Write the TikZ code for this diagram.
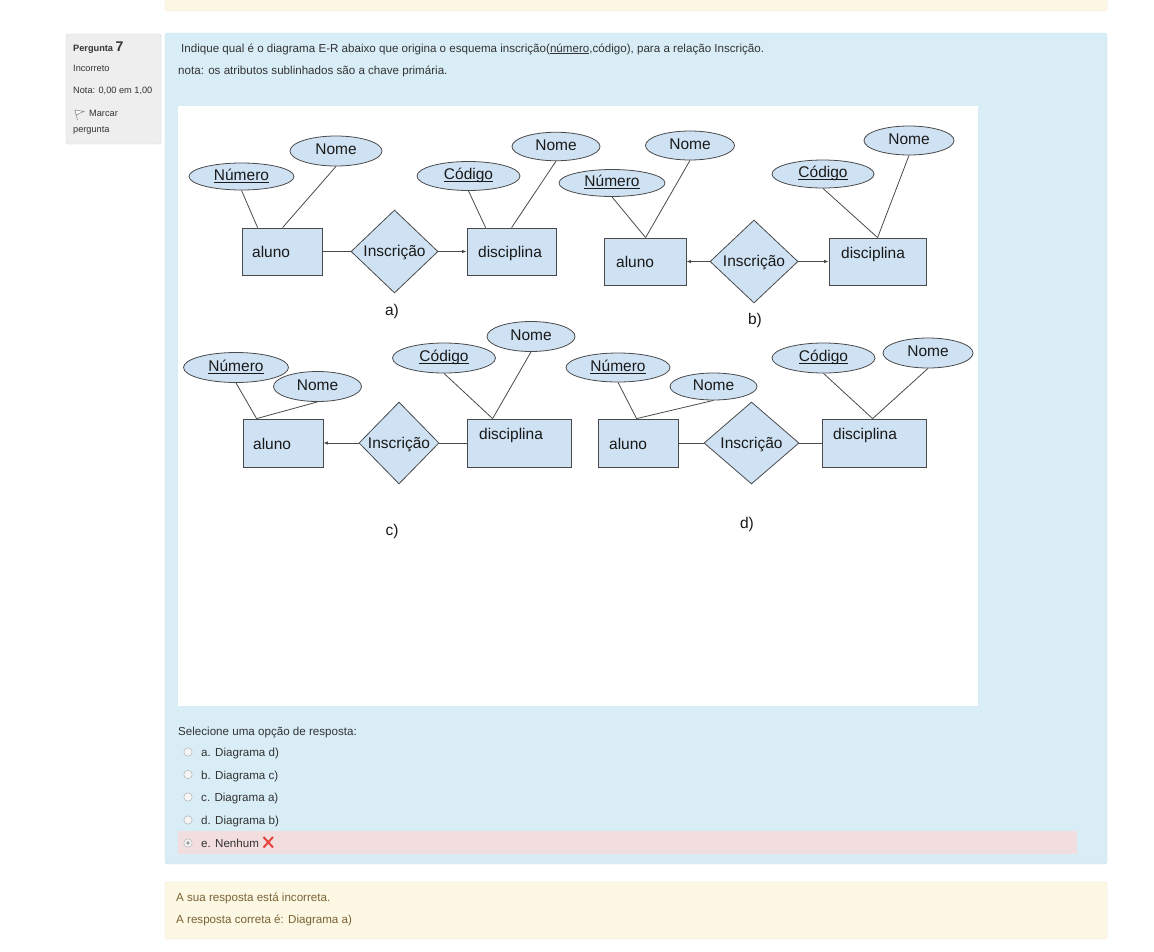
\documentclass[tikz,border=0pt]{standalone}
\usepackage{fontspec}
\setmainfont{Liberation Sans}
\usetikzlibrary{shapes.geometric,arrows.meta,calc}

\definecolor{qblue}{HTML}{D9EDF7}
\definecolor{qblueline}{HTML}{BCE3EF}
\definecolor{qyellow}{HTML}{FCF8E3}
\definecolor{qyellowline}{HTML}{F5E6C4}
\definecolor{qinfo}{HTML}{EEEEEE}
\definecolor{qinfoline}{HTML}{D8D8D8}
\definecolor{qred}{HTML}{F2DEDE}
\definecolor{qtext}{HTML}{333333}
\definecolor{qbrown}{HTML}{7A6236}
\definecolor{erfill}{HTML}{CFE2F3}
\definecolor{erline}{HTML}{4A4A4A}
\definecolor{crossred}{HTML}{E8423F}

% underline drawn just below the baseline
\newsavebox\ulbox
\newcommand{\ulword}[2][2.2]{\sbox\ulbox{#2}\rlap{\rule[-#1pt]{\wd\ulbox}{0.8pt}}\usebox\ulbox}

\begin{document}
\begin{tikzpicture}[x=1pt,y=-1pt,
  erfont/.style={font=\fontsize{15.5}{18}\selectfont, text=black!90},
  attr/.style={ellipse, draw=erline, fill=erfill, inner sep=0pt, line width=0.8pt,
    erfont, text height=11pt, text depth=3.3pt},
  ent/.style={rectangle, draw=erline, fill=erfill, inner sep=0pt, line width=0.8pt},
  rel/.style={diamond, draw=erline, fill=erfill, inner sep=0pt, aspect=1, line width=0.8pt,
    erfont, text height=11pt, text depth=1pt},
  link/.style={draw=erline, line width=0.8pt},
  tip/.style={-{Latex[length=4.5pt,width=3.5pt]}},
  lbl/.style={erfont, anchor=base west},
  page/.style={font=\fontsize{11.6}{14}\selectfont, text=qtext, inner sep=0pt, anchor=base west},
  small/.style={font=\fontsize{9.2}{11}\selectfont, text=qtext, inner sep=0pt, anchor=base west},
  fb/.style={font=\fontsize{11.6}{14}\selectfont, text=qbrown, inner sep=0pt, anchor=base west},
  radio/.style={circle, draw=black!30, fill=black!4, minimum size=8.4pt, inner sep=0pt, line width=0.5pt}
]
\useasboundingbox (0,0) rectangle (1154,951);
\fill[white] (0,0) rectangle (1154,951);

% ---- page frame ----
\draw[qyellowline, fill=qyellow, rounded corners=3] (165,-6) rectangle (1107,11);
\draw[qinfoline, fill=qinfo, rounded corners=2] (66,34) rectangle (161,144);
\draw[qblueline, fill=qblue, rounded corners=3] (165,33) rectangle (1107,864);
\draw[qyellowline, fill=qyellow, rounded corners=3] (165,882) rectangle (1107,939);

% ---- question info ----
\node[small] (qnum) at (73,51) {\textbf{Pergunta} {\fontsize{14}{16}\selectfont\textbf{7}}};
\node[small] (qstate) at (73,71) {Incorreto};
\node[small] (qgrade) at (73,93) {Nota: 0,00 em 1,00};
\draw[black!45, line width=0.6pt] (75,110) -- (77.5,120);
\draw[black!45, line width=0.6pt, fill=white] (75,110) -- (84,111.5) -- (79,113.5) -- (76.3,115.3) -- cycle;
\node[small] (qflag) at (89,116) {Marcar};
\node[small] (qflag2) at (73,132) {pergunta};

% ---- question text ----
\node[page] (qtxt) at (181,52) {Indique qual é o diagrama E-R abaixo que origina o esquema inscrição(\ulword[1.6]{número},código), para a relação Inscrição.};
\node[page] (qnote) at (178,74) {nota: os atributos sublinhados são a chave primária.};

% ---- image area ----
\fill[white] (178,106) rectangle (978,706);

% ===== diagram a) =====
\node[ent, minimum width=80, minimum height=47] (alunoA) at (282,251.5) {};
\node[ent, minimum width=89, minimum height=47] (discA) at (511.5,251.5) {};
\node[rel, minimum width=87, minimum height=83] (relA) at (394.5,251.5) {Inscrição};
\node[attr, minimum width=105, minimum height=27] (numA) at (241.5,176.5) {\ulword{Número}};
\node[attr, minimum width=92, minimum height=30] (nomeA) at (336,151) {Nome};
\node[attr, minimum width=103, minimum height=29] (codA) at (468.5,176) {\ulword{Código}};
\node[attr, minimum width=88, minimum height=28.5] (nomeA2) at (556,146.5) {Nome};
\node[lbl] (tAlunoA) at ($(alunoA.north west)+(7,30)$) {aluno};
\node[lbl] (tDiscA) at ($(discA.north west)+(8,30)$) {disciplina};
\draw[link] (numA.south) -- ($(alunoA.north west)+(16,0)$);
\draw[link] (nomeA.south) -- ($(alunoA.north west)+(41,0)$);
\draw[link] (codA.south) -- ($(discA.north west)+(19,0)$);
\draw[link] (nomeA2.south) -- ($(discA.north west)+(45,0)$);
\draw[link] (alunoA.east) -- (relA.west);
\draw[link, tip] (relA.east) -- (discA.west);
\node[erfont] (capA) at (392,311) {a)};

% ===== diagram b) =====
\node[ent, minimum width=82, minimum height=47] (alunoB) at (645,261.5) {};
\node[ent, minimum width=97, minimum height=47] (discB) at (877.5,261.5) {};
\node[rel, minimum width=88, minimum height=83] (relB) at (754,261.5) {Inscrição};
\node[attr, minimum width=106, minimum height=27] (numB) at (612,183) {\ulword{Número}};
\node[attr, minimum width=89, minimum height=29] (nomeB) at (690,145.5) {Nome};
\node[attr, minimum width=102, minimum height=28] (codB) at (823,174) {\ulword{Código}};
\node[attr, minimum width=90, minimum height=29] (nomeB2) at (909,140.5) {Nome};
\node[lbl] (tAlunoB) at ($(alunoB.north west)+(9,30)$) {aluno};
\node[lbl] (tDiscB) at ($(discB.north west)+(9,21)$) {disciplina};
\draw[link] (numB.south) -- ($(alunoB.north west)+(42,0)$);
\draw[link] (nomeB.south) -- ($(alunoB.north west)+(42,0)$);
\draw[link] (codB.south) -- ($(discB.north west)+(49,0)$);
\draw[link] (nomeB2.south) -- ($(discB.north west)+(49,0)$);
\draw[link, tip] (relB.west) -- (alunoB.east);
\draw[link, tip] (relB.east) -- (discB.west);
\node[erfont] (capB) at (755,320) {b)};

% ===== diagram c) =====
\node[ent, minimum width=80, minimum height=48] (alunoC) at (283,443) {};
\node[ent, minimum width=104, minimum height=48] (discC) at (519,443) {};
\node[rel, minimum width=80, minimum height=82] (relC) at (399,443) {Inscrição};
\node[attr, minimum width=105, minimum height=30] (numC) at (236,367.5) {\ulword{Número}};
\node[attr, minimum width=88, minimum height=30] (nomeC) at (317.5,386.5) {Nome};
\node[attr, minimum width=103, minimum height=30] (codC) at (444,358) {\ulword{Código}};
\node[attr, minimum width=88, minimum height=30] (nomeC2) at (531,336.5) {Nome};
\node[lbl] (tAlunoC) at ($(alunoC.north west)+(7,31)$) {aluno};
\node[lbl] (tDiscC) at ($(discC.north west)+(9,21)$) {disciplina};
\draw[link] (numC.south) -- ($(alunoC.north west)+(14,0)$);
\draw[link] (nomeC.south) -- ($(alunoC.north west)+(14,0)$);
\draw[link] (codC.south) -- ($(discC.north west)+(26,0)$);
\draw[link] (nomeC2.south) -- ($(discC.north west)+(26,0)$);
\draw[link, tip] (relC.west) -- (alunoC.east);
\draw[link] (relC.east) -- (discC.west);
\node[erfont] (capC) at (392,531) {c)};

% ===== diagram d) =====
\node[ent, minimum width=80, minimum height=48] (alunoD) at (638,443) {};
\node[ent, minimum width=104, minimum height=48] (discD) at (874,443) {};
\node[rel, minimum width=95, minimum height=82] (relD) at (751.5,443) {Inscrição};
\node[attr, minimum width=104, minimum height=29] (numD) at (618,367.5) {\ulword{Número}};
\node[attr, minimum width=87, minimum height=27] (nomeD) at (713.5,386.5) {Nome};
\node[attr, minimum width=103, minimum height=30] (codD) at (823.5,358) {\ulword{Código}};
\node[attr, minimum width=90, minimum height=30] (nomeD2) at (928,353) {Nome};
\node[lbl] (tAlunoD) at ($(alunoD.north west)+(8,31)$) {aluno};
\node[lbl] (tDiscD) at ($(discD.north west)+(8,21)$) {disciplina};
\draw[link] (numD.south) -- ($(alunoD.north west)+(39,0)$);
\draw[link] (nomeD.south) -- ($(alunoD.north west)+(39,0)$);
\draw[link] (codD.south) -- ($(discD.north west)+(51,0)$);
\draw[link] (nomeD2.south) -- ($(discD.north west)+(51,0)$);
\draw[link] (alunoD.east) -- (relD.west);
\draw[link] (relD.east) -- (discD.west);
\node[erfont] (capD) at (747,524) {d)};

% ---- answer options ----
\node[page] (prompt) at (178,735) {Selecione uma opção de resposta:};
\fill[qred] (178,831) rectangle (1077,854);
\node[radio] (ra) at (188,752) {};
\node[radio] (rb) at (188,774.5) {};
\node[radio] (rc) at (188,797) {};
\node[radio] (rd) at (188,820) {};
\node[radio] (re) at (188,843) {};
\fill[black!40] (re) circle (1.8);
\node[page] (oa) at (201,756.5) {a. Diagrama d)};
\node[page] (ob) at (201,779) {b. Diagrama c)};
\node[page] (oc) at (201,801.5) {c. Diagrama a)};
\node[page] (od) at (201,824.5) {d. Diagrama b)};
\node[page] (oe) at (201,847.5) {e. Nenhum};
\draw[crossred, line width=2pt] (263.5,837) -- (273,847.5);
\draw[crossred, line width=2pt] (273,837) -- (263.5,847.5);

% ---- feedback ----
\node[fb] (fb1) at (176,901) {A sua resposta está incorreta.};
\node[fb] (fb2) at (176,923) {A resposta correta é: Diagrama a)};
\end{tikzpicture}
\end{document}
